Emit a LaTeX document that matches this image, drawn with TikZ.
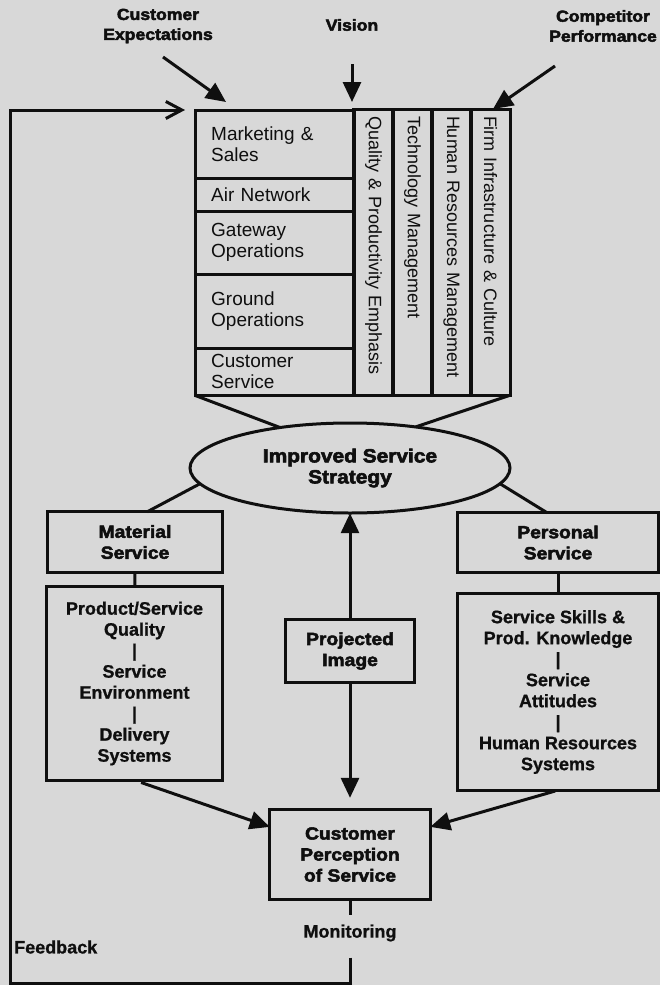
\documentclass[tikz,border=0pt]{standalone}
\usepackage{fontspec}
\setmainfont{Liberation Sans}
\newfontfamily\medfont{Liberation Sans}[FakeBold=1]
\newfontfamily\heavyfont{Liberation Sans}[FakeStretch=1.1,FakeBold=3]
\usetikzlibrary{arrows.meta,shapes.geometric}
\definecolor{bg}{RGB}{216,216,216}
\definecolor{ink}{RGB}{15,15,15}
\begin{document}
\begin{tikzpicture}[x=1pt,y=-1pt,
  every node/.style={text=ink},
  ln/.style={line width=3pt, draw=ink},
  arr/.style={ln, -{Triangle[length=20pt,width=18pt]}},
  reg/.style={font=\fontsize{19}{21}\selectfont},
  vreg/.style={font=\fontsize{18}{21}\selectfont},
  med/.style={font=\medfont\bfseries\fontsize{18}{21}\selectfont},
  hvy/.style={font=\heavyfont\bfseries\fontsize{17.5}{21}\selectfont},
  toplab/.style={font=\heavyfont\bfseries\fontsize{16}{20}\selectfont, align=center},
  rowbox/.style={reg, anchor=north west, text width=127pt, inner xsep=16pt, inner ysep=0pt, align=left},
  colbox/.style={vreg, rotate=-90, minimum width=285pt, minimum height=39pt, text width=273pt, inner xsep=6pt, inner ysep=0pt, align=left},
  tbox/.style={hvy, align=center, inner sep=0pt},
  lbox/.style={med, align=center, inner sep=0pt}
]
\fill[bg] (0,0) rectangle (660,985);
\useasboundingbox (0,0) rectangle (660,985);

% top labels
\node[toplab] (ce) at (158,26) {Customer\\Expectations};
\node[toplab] (vis) at (352,25) {Vision};
\node[toplab] (cpf) at (603,26) {Competitor\\Performance};

% top box rows
\node[rowbox, minimum height=68pt] (r1) at (195,110) {Marketing \&\\Sales};
\node[rowbox, minimum height=33pt] (r2) at (195,178) {Air Network};
\node[rowbox, minimum height=63pt] (r3) at (195,211) {Gateway\\Operations};
\node[rowbox, minimum height=74pt] (r4) at (195,274) {Ground\\Operations};
\node[rowbox, minimum height=47pt] (r5) at (195,348) {Customer\\Service};

% top box columns
\node[colbox] (c1) at (373.5,252.5) {Quality \& Productivity Emphasis};
\node[colbox] (c2) at (412.5,252.5) {Technology Management};
\node[colbox] (c3) at (451.5,252.5) {Human Resources Management};
\node[colbox] (c4) at (490.5,252.5) {Firm Infrastructure \& Culture};

% strategy ellipse
\node[ellipse, minimum width=320pt, minimum height=90pt, inner sep=0pt, align=center,
      font=\heavyfont\bfseries\fontsize{19}{21}\selectfont] (iss) at (350,468) {Improved Service\\Strategy};

% service boxes
\node[tbox, minimum width=174pt, minimum height=60pt] (mat) at (135,542) {Material\\Service};
\node[tbox, minimum width=200pt, minimum height=59pt] (psv) at (558,542.5) {Personal\\Service};
\node[lbox, minimum width=175pt, minimum height=193pt] (ml) at (134.5,683.5)
  {Product/Service\\Quality\\|\\Service\\Environment\\|\\Delivery\\Systems};
\node[lbox, minimum width=200pt, minimum height=196pt] (pl) at (558,692)
  {Service Skills \&\\Prod. Knowledge\\|\\Service\\Attitudes\\|\\Human Resources\\Systems};

% projected image and perception
\node[tbox, minimum width=129pt, minimum height=62pt] (pim) at (350,651) {Projected\\Image};
\node[tbox, minimum width=160pt, minimum height=89pt] (cps) at (350,854.5) {Customer\\Perception\\of Service};

% monitoring and feedback labels
\node[med, inner sep=0pt] (mon) at (350,933) {Monitoring};
\node[med, inner sep=0pt, anchor=west] (fb) at (14,947) {Feedback};

% borders of all boxes
\foreach \n in {r1,r2,r3,r4,r5,c1,c2,c3,c4,mat,psv,ml,pl,pim,cps}
  \draw[ln] (\n.north west) rectangle (\n.south east);
\draw[ln] (iss.center) ellipse [x radius=160, y radius=45];

% input arrows
\coordinate (ceS) at (163,57);
\coordinate (ceT) at (226,102);
\draw[arr] (ceS) -- (ceT);
\draw[arr, shorten <=30pt, shorten >=8pt] (vis.south) -- (vis.south |- r1.north);
\coordinate (cpS) at (555,66);
\coordinate (cpT) at (493,109);
\draw[arr] (cpS) -- (cpT);

% funnel
\draw[ln] (r5.south west) -- (iss.150);
\draw[ln] (c4.north east) -- (iss.32);

% strategy to services
\draw[ln] (iss.186) -- (mat.68);
\draw[ln] (iss.354) -- (psv.110);
\draw[ln] (mat) -- (ml);
\draw[ln] (psv) -- (pl);

% image and perception arrows
\draw[arr] (pim) -- (iss);
\draw[arr, shorten >=12pt] (pim) -- (cps);
\draw[arr, shorten <=7pt] (ml.south) -- (cps.161);
\draw[arr, shorten <=3pt] (pl.south) -- (cps.19);

% monitoring and feedback loop
\draw[ln, shorten >=9pt] (cps.south) -- (mon.north);
\coordinate (fbR) at (350,983);
\coordinate (fbL) at (10,983);
\coordinate (fbT) at (10,110);
\coordinate (fbE) at (196,110);
\draw[ln, -{Straight Barb[length=16pt,width=17pt]}, shorten <=16pt, shorten >=11pt]
  (mon.south) -- (fbR) -- (fbL) -- (fbT) -- (fbE);
\end{tikzpicture}
\end{document}
